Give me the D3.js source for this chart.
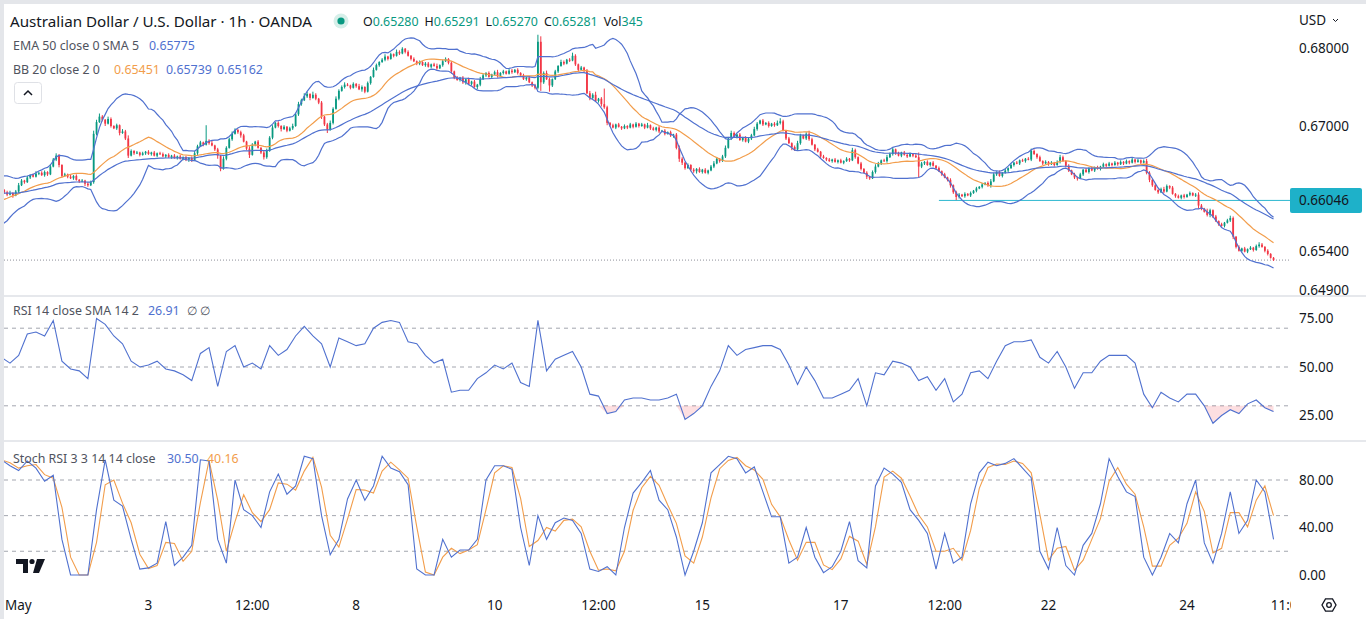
<!DOCTYPE html>
<html>
<head>
<meta charset="utf-8">
<title>AUD/USD 1h</title>
<script src="https://cdn.jsdelivr.net/npm/d3@7/dist/d3.min.js"></script>
<style>
html,body{margin:0;padding:0;background:#fff;overflow:hidden;}
svg{display:block;font-family:"Noto Sans","Open Sans",Roboto,sans-serif;}
</style>
</head>
<body>
<svg id="chart" width="1366" height="619"></svg>
<script>
// ================= DATA (prices in 1/10000 USD) =================
// hourly closes, week by week (Apr 30 21:00 -> May 25 05:00)
const closesWeek1 = [
6618,6615,6612,6614,6611,6616,6624,6630,6628,6634,
6637,6635,6639,6640,6637,6641,6638,6648,6657,6662,
6650,6636,6638,6635,6633,6636,6631,6629,6630,6626,
6624,6628,6690,6705,6712,6708,6703,6709,6700,6697,
6701,6691,6693,6684,6662,6668,6665,6666,6663,6665,
6667,6664,6666,6662,6665,6664,6661,6663,6660,6662,
6659,6661,6658,6660,6657,6659,6656,6665,6674,6679,
6676,6681,6678,6675,6670,6662,6645,6658,6672,6683,
6690,6695,6692,6688,6680,6671,6663,6676,6680,6672,
6666,6660,6668,6685,6698,6704,6700,6696,6699,6694,
6697,6700,6715,6728,6733,6738,6741,6736,6740,6735,
6730,6712,6702,6695,6704,6722,6735,6745,6750,6753];
const closesWeek2 = [
6752,6749,6754,6751,6747,6750,6744,6755,6763,6772,
6778,6782,6785,6789,6786,6792,6790,6795,6793,6799,
6795,6790,6786,6783,6780,6782,6778,6780,6776,6779,
6777,6774,6778,6783,6786,6781,6770,6762,6759,6762,
6756,6760,6754,6757,6750,6753,6760,6765,6768,6763,
6766,6769,6764,6768,6770,6767,6771,6769,6772,6768,
6765,6760,6762,6756,6752,6749,6808,6756,6768,6760,
6752,6760,6770,6777,6782,6780,6785,6784,6790,6779,
6772,6775,6771,6742,6736,6740,6732,6735,6728,6724,
6704,6701,6698,6702,6699,6697,6700,6698,6702,6699,
6703,6700,6702,6698,6701,6697,6695,6698,6693,6694,
6690,6692,6688,6689,6672,6658,6653,6646,6650,6644];
const closesWeek3 = [
6642,6645,6641,6644,6640,6643,6648,6652,6658,6655,
6661,6672,6684,6691,6686,6689,6682,6685,6680,6684,
6688,6696,6703,6707,6702,6704,6700,6703,6701,6704,
6706,6694,6684,6678,6673,6670,6678,6688,6684,6690,
6683,6676,6670,6667,6661,6659,6657,6655,6657,6654,
6656,6653,6655,6658,6656,6669,6660,6652,6645,6640,
6635,6633,6641,6648,6652,6656,6655,6660,6664,6670,
6665,6662,6666,6663,6661,6664,6662,6660,6648,6652,
6654,6650,6653,6649,6646,6642,6638,6634,6631,6624,
6615,6609,6612,6610,6613,6611,6614,6617,6620,6622,
6625,6627,6624,6629,6638,6641,6636,6640,6643,6646,
6650,6653,6652,6656,6655,6658,6657,6668,6664,6660];
const closesWeek4 = [
6655,6652,6654,6651,6653,6650,6654,6660,6655,6649,
6643,6638,6634,6633,6638,6644,6641,6646,6643,6647,
6645,6648,6651,6649,6652,6650,6653,6651,6654,6652,
6655,6653,6657,6654,6656,6653,6655,6640,6631,6624,
6618,6615,6619,6616,6623,6621,6613,6610,6608,6611,
6609,6612,6614,6611,6612,6598,6594,6590,6586,6592,
6584,6578,6574,6572,6576,6579,6582,6558,6545,6540,
6543,6539,6542,6544,6541,6546,6548,6545,6540,6536,
6531,6528];
// wick lengths beyond the candle body (1/10000)
const wickUpWeek1 = [2,1,2,3,1,2,3,2,1,2,1,2,3,1,2,2,1,3,2,3,2,1,2,1,3,1,2,1,2,1,2,2,4,3,4,2,1,3,2,1,2,1,3,2,4,2,1,2,1,2,1,2,1,2,1,2,2,1,2,1,2,1,2,1,2,1,2,3,2,2,1,20,2,3,1,2,1,3,2,2,3,2,1,2,2,1,3,2,1,2,1,2,3,2,3,1,2,1,2,1,2,3,2,3,2,4,3,1,4,2,1,2,1,2,3,2,3,2,2,3];
const wickDownWeek1 = [1,2,2,1,3,1,2,1,2,1,2,1,1,2,1,2,2,1,1,2,3,2,1,2,1,2,1,2,1,3,2,1,2,2,1,2,3,1,2,1,2,3,1,2,3,1,2,1,2,1,2,1,2,1,2,1,1,2,1,2,1,2,1,2,2,3,2,1,2,1,2,1,2,1,2,4,3,1,2,1,2,1,2,3,1,2,4,1,2,1,2,3,2,1,2,1,2,3,1,2,1,2,1,2,2,1,2,3,1,2,2,3,2,4,1,2,1,2,1,2];
const wickUpWeek2 = [2,1,2,1,3,2,1,2,1,3,2,1,2,3,1,2,1,3,2,2,1,2,1,2,1,2,1,2,2,1,2,3,1,2,2,1,2,1,2,1,2,1,2,1,2,1,3,2,1,2,1,2,3,1,2,1,2,2,1,2,1,2,1,2,1,2,9,7,2,3,2,1,2,1,3,2,1,2,4,2,1,2,1,2,3,2,4,1,2,20,2,1,2,1,2,1,2,1,2,1,2,1,2,1,3,1,2,1,2,1,2,1,2,1,2,3,2,1,2,1];
const wickDownWeek2 = [1,2,1,2,1,3,2,1,2,1,1,2,1,2,2,1,2,1,2,1,2,1,2,1,2,2,1,2,1,2,1,2,1,2,1,2,3,2,1,2,2,3,1,2,1,3,2,1,2,1,2,1,2,1,2,1,1,2,1,2,2,1,2,1,2,2,2,11,2,1,8,2,1,2,1,2,1,2,1,2,2,1,2,1,3,2,1,2,3,2,3,2,1,2,1,2,1,2,1,2,1,2,1,2,1,2,1,2,2,1,2,1,2,3,2,4,3,2,1,2];
const wickUpWeek3 = [2,1,2,1,2,1,2,3,2,1,2,3,2,3,2,1,2,1,2,1,2,3,2,1,2,1,2,1,2,3,4,2,1,2,1,2,3,2,1,2,4,2,1,2,1,2,1,2,1,2,1,2,1,2,1,3,2,1,2,1,2,1,2,3,2,1,2,3,2,2,1,2,1,2,1,2,1,2,6,2,1,2,1,2,1,2,1,2,1,2,1,2,2,1,2,1,2,1,2,1,2,1,2,3,2,1,2,1,2,1,2,1,2,1,2,1,2,3,2,1];
const wickDownWeek3 = [2,3,1,2,1,2,1,2,1,2,1,2,1,2,1,2,1,2,1,2,2,1,2,1,2,1,2,1,2,1,2,1,2,1,4,2,1,2,1,2,2,1,2,1,2,1,2,1,2,1,2,1,2,1,2,1,2,1,2,1,3,2,1,2,1,2,1,2,1,2,2,1,2,1,2,1,2,1,14,2,2,1,2,1,2,1,2,1,2,3,2,4,2,1,2,1,2,1,2,1,2,1,2,3,1,2,1,2,1,2,1,2,1,2,1,2,1,2,1,2];
const wickUpWeek4 = [2,1,2,1,2,1,2,3,2,1,2,1,2,1,2,1,2,1,2,1,2,1,2,1,2,1,2,1,2,1,2,1,2,1,2,1,2,3,2,1,2,1,2,3,2,1,2,1,2,1,2,1,2,1,2,3,2,1,4,2,1,2,1,2,1,2,3,2,1,2,1,2,1,2,1,2,3,2,1,2,1,1];
const wickDownWeek4 = [1,2,1,2,1,2,1,2,1,2,2,1,2,3,1,2,1,2,1,2,1,2,1,2,1,2,1,2,1,2,1,2,1,2,1,2,1,2,3,2,1,2,1,2,1,2,1,2,1,2,2,1,2,1,2,4,2,1,2,3,2,1,2,1,2,1,2,3,2,1,2,1,2,1,2,1,2,1,2,2,1,1];
// closes of the session before the visible range (only feed the 20-bar bands)
const priorCloses = [6590,6585,6580,6584,6589,6592,6596,6600,6594,6598,6604,6610,6615,6620,6625,6628,6624,6620,6622];
const emaStart = 6614;          // EMA 50 value at the left edge
// RSI 14 and Stoch RSI %K read every 3rd candle
const rsiEvery3 = [
55,52,56,67,68,66,74,53,49,48,
44,75,72,66,62,53,50,51,53,49,
48,46,43,57,60,40,58,61,50,52,
49,61,56,59,66,71,66,62,50,65,
63,61,62,70,73,74,73,63,62,56,
52,54,37,38,38,44,47,51,49,52,
42,40,74,48,54,56,58,50,36,35,
26,27,33,34,34,33,33,34,36,23,
26,30,40,48,61,56,59,60,61,61,
59,51,41,50,43,34,34,36,38,44,
30,47,46,53,52,50,43,45,38,44,
32,36,47,48,44,53,61,63,63,64,
55,52,58,50,39,47,47,53,56,56,
56,52,36,29,37,34,32,36,36,30,
21,25,28,26,31,33,29,27];
const stochKEvery3 = [
97,92,88,96,90,79,84,30,0,0,
0,55,97,63,58,30,5,6,10,45,
8,15,25,97,96,30,10,80,55,50,
40,70,85,68,75,100,98,50,17,30,
64,80,63,75,100,90,87,76,5,0,
0,30,15,21,21,30,80,92,92,89,
40,8,50,30,44,48,46,35,5,3,
7,0,40,69,78,88,63,55,32,0,
20,44,86,93,100,98,86,91,70,49,
49,10,15,40,15,2,7,20,45,12,
6,75,90,85,78,55,46,35,5,35,
10,15,60,86,95,92,94,98,90,82,
20,5,40,8,0,25,35,60,98,83,
70,66,15,0,15,35,27,60,80,27,
10,35,70,35,46,80,70,30];
const sampleStep = 3;
// axes
const timeTickLabels = ["May","3","12:00","8","10","12:00","15","17","12:00","22","24","11:00"];
const timeTickCandle = [3,51,87,123,171,207,243,291,327,363,411,446];
const priceTicks = [0.68, 0.67, 0.654, 0.649];
const rsiTicks = [75, 50, 25];
const rsiLevels = [70, 50, 30];
const stochTicks = [80, 40, 0];
const stochLevels = [80, 50, 20];
const markedLevel = 0.66046;
const markedLevelFromCandle = 325;
const lastClose = 0.65281;
// legend texts
const legendTitle = "Australian Dollar / U.S. Dollar · 1h · OANDA";
const ohlcLabels = ["O","H","L","C","Vol"];
const ohlcValues = ["0.65280","0.65291","0.65270","0.65281","345"];
const emaLegend = ["EMA 50 close 0 SMA 5", "0.65775"];
const bbLegend = ["BB 20 close 2 0", "0.65451", "0.65739", "0.65162"];
const rsiLegend = ["RSI 14 close SMA 14 2", "26.91", "∅", "∅"];
const stochLegend = ["Stoch RSI 3 3 14 14 close", "30.50", "40.16"];

// ================= STYLE =================
const UP = "#089981", DOWN = "#f23645";
const BLUE = "#5071cf", ORANGE = "#f29d4b", TEXT = "#131722", SUB = "#50535e";
const GRID = "#a3a6af";
const LEG = 12.4;

// ================= BUILD =================
const closes = [].concat(closesWeek1, closesWeek2, closesWeek3, closesWeek4);
const wUp = [].concat(wickUpWeek1, wickUpWeek2, wickUpWeek3, wickUpWeek4);
const wDn = [].concat(wickDownWeek1, wickDownWeek2, wickDownWeek3, wickDownWeek4);
const candles = closes.map((c, i) => {
  const o = i === 0 ? priorCloses[priorCloses.length - 1] : closes[i - 1];
  return { i, o: o / 1e4, c: c / 1e4,
           h: (Math.max(o, c) + (wUp[i] || 0)) / 1e4,
           l: (Math.min(o, c) - (wDn[i] || 0)) / 1e4 };
});
const allCloses = priorCloses.concat(closes);
const bb = closes.map((c, i) => {
  const k = i + priorCloses.length;
  const w = allCloses.slice(k - 19, k + 1);
  const m = d3.mean(w);
  const sd = Math.sqrt(d3.mean(w, v => (v - m) * (v - m)));
  return { i, mid: m / 1e4, up: (m + 2 * sd) / 1e4, lo: (m - 2 * sd) / 1e4 };
});
let e = emaStart;
const ema = closes.map((c, i) => { if (i > 0) e = e + (2 / 51) * (c - e); return { i, v: e / 1e4 }; });
const rsi = rsiEvery3.map((v, j) => ({ i: j * sampleStep, v }));
const stK = stochKEvery3.map((v, j) => ({ i: j * sampleStep, v }));
const stD = stK.map((d, j) => ({ i: d.i, v: j === 0 ? d.v : (d.v + stK[j - 1].v) / 2 }));

const svg = d3.select("#chart");
const W = 1366, H = 619;
const plotL = 4, plotR = 1290;
const mainTop = 5, mainBot = 294, rsiTop = 297, rsiBot = 439, stTop = 442, stBot = 590;

const x = d3.scaleLinear().domain([3, 411]).range([10, 1187]);
const yP = d3.scaleLinear().domain([0.649, 0.68]).range([289.8, 48]);
const yR = d3.scaleLinear().domain([25, 75]).range([415.5, 318.5]);
const yS = d3.scaleLinear().domain([0, 80]).range([575, 480]);

svg.append("rect").attr("width", W).attr("height", H).attr("fill", "#fff");
const defs = svg.append("defs");
function clip(id, x0, y0, x1, y1) {
  defs.append("clipPath").attr("id", id).append("rect")
    .attr("x", x0).attr("y", y0).attr("width", x1 - x0).attr("height", y1 - y0);
}
clip("cMain", plotL, mainTop, plotR, mainBot);
clip("cRsi", plotL, rsiTop, plotR, rsiBot);
clip("cSt", plotL, stTop, plotR, stBot);
clip("cTime", plotL, stBot, plotR + 1, H);
clip("cAxisMain", plotR, mainTop, W, mainBot + 1);

// ---------- MAIN PANE ----------
const gM = svg.append("g").attr("clip-path", "url(#cMain)");
gM.append("line").attr("x1", plotL).attr("x2", plotR)
  .attr("y1", yP(lastClose)).attr("y2", yP(lastClose))
  .attr("stroke", "#8d909a").attr("stroke-width", 1).attr("stroke-dasharray", "1,2");
gM.append("line").attr("x1", x(markedLevelFromCandle)).attr("x2", plotR)
  .attr("y1", yP(markedLevel)).attr("y2", yP(markedLevel))
  .attr("stroke", "#2bb7cf").attr("stroke-width", 1);
const cg = gM.append("g");
cg.selectAll("line.w").data(candles).join("line").attr("class", "w")
  .attr("x1", d => x(d.i)).attr("x2", d => x(d.i))
  .attr("y1", d => yP(d.h)).attr("y2", d => yP(d.l))
  .attr("stroke", d => d.c >= d.o ? UP : DOWN).attr("stroke-width", 1);
cg.selectAll("rect.b").data(candles).join("rect").attr("class", "b")
  .attr("x", d => x(d.i) - 0.9).attr("width", 1.8)
  .attr("y", d => yP(Math.max(d.o, d.c)))
  .attr("height", d => Math.max(1, Math.abs(yP(d.o) - yP(d.c))))
  .attr("fill", d => d.c >= d.o ? UP : DOWN);
const lineP = acc => d3.line().x(d => x(d.i)).y(d => yP(acc(d)));
gM.append("path").datum(bb).attr("d", lineP(d => d.up)).attr("fill", "none").attr("stroke", BLUE).attr("stroke-width", 1.2);
gM.append("path").datum(bb).attr("d", lineP(d => d.lo)).attr("fill", "none").attr("stroke", BLUE).attr("stroke-width", 1.2);
gM.append("path").datum(bb).attr("d", lineP(d => d.mid)).attr("fill", "none").attr("stroke", ORANGE).attr("stroke-width", 1.2);
gM.append("path").datum(ema).attr("d", lineP(d => d.v)).attr("fill", "none").attr("stroke", BLUE).attr("stroke-width", 1.2);

// ---------- RSI PANE ----------
const gR = svg.append("g").attr("clip-path", "url(#cRsi)");
gR.selectAll("line.lv").data(rsiLevels).join("line")
  .attr("x1", plotL).attr("x2", plotR).attr("y1", d => yR(d)).attr("y2", d => yR(d))
  .attr("stroke", GRID).attr("stroke-width", 1).attr("stroke-dasharray", "4,4");
gR.append("path").datum(rsi)
  .attr("d", d3.area().x(d => x(d.i)).y0(yR(30)).y1(d => yR(Math.min(d.v, 30))))
  .attr("fill", "rgba(242,54,69,0.16)");
gR.append("path").datum(rsi)
  .attr("d", d3.line().x(d => x(d.i)).y(d => yR(d.v)))
  .attr("fill", "none").attr("stroke", BLUE).attr("stroke-width", 1.1);

// ---------- STOCH RSI PANE ----------
const gS = svg.append("g").attr("clip-path", "url(#cSt)");
gS.selectAll("line.lv").data(stochLevels).join("line")
  .attr("x1", plotL).attr("x2", plotR).attr("y1", d => yS(d)).attr("y2", d => yS(d))
  .attr("stroke", GRID).attr("stroke-width", 1).attr("stroke-dasharray", "4,4");
gS.append("path").datum(stD)
  .attr("d", d3.line().x(d => x(d.i)).y(d => yS(d.v)))
  .attr("fill", "none").attr("stroke", ORANGE).attr("stroke-width", 1.1);
gS.append("path").datum(stK)
  .attr("d", d3.line().x(d => x(d.i)).y(d => yS(d.v)))
  .attr("fill", "none").attr("stroke", BLUE).attr("stroke-width", 1.1);

// ---------- separators ----------
svg.append("rect").attr("x", 0).attr("y", 295).attr("width", W).attr("height", 2).attr("fill", "#e6e8ec");
svg.append("rect").attr("x", 0).attr("y", 440).attr("width", W).attr("height", 2).attr("fill", "#e6e8ec");

// ---------- axes text ----------
const axisFont = 13.5;
const gA = svg.append("g").attr("font-size", axisFont).attr("fill", TEXT);
gA.append("g").attr("clip-path", "url(#cAxisMain)")
  .selectAll("text").data(priceTicks).join("text")
  .attr("x", 1299).attr("y", d => yP(d)).attr("dy", "0.36em")
  .text(d => d3.format(".5f")(d));
gA.selectAll("text.r").data(rsiTicks).join("text").attr("class", "r")
  .attr("x", 1299).attr("y", d => yR(d)).attr("dy", "0.36em").text(d => d3.format(".2f")(d));
gA.selectAll("text.s").data(stochTicks).join("text").attr("class", "s")
  .attr("x", 1299).attr("y", d => yS(d)).attr("dy", "0.36em").text(d => d3.format(".2f")(d));
gA.append("text").attr("x", 1299).attr("y", 20).attr("dy", "0.36em").text("USD");
gA.append("path").attr("d", "M1333,19 l2.5,2.5 l2.5,-2.5").attr("fill", "none").attr("stroke", TEXT).attr("stroke-width", 1);
svg.append("rect").attr("x", 1290).attr("y", yP(markedLevel) - 12.5).attr("width", 72).attr("height", 25)
  .attr("rx", 2).attr("fill", "#1eb1c9");
svg.append("text").attr("x", 1299).attr("y", yP(markedLevel)).attr("dy", "0.36em")
  .attr("font-size", axisFont).attr("fill", TEXT).text(d3.format(".5f")(markedLevel));
// time axis (first label kept fully inside the pane)
svg.append("g").attr("clip-path", "url(#cTime)").attr("font-size", axisFont).attr("fill", TEXT)
  .selectAll("text").data(timeTickLabels).join("text")
  .attr("x", (d, k) => k === 0 ? 5 : x(timeTickCandle[k])).attr("y", 605).attr("dy", "0.36em")
  .attr("text-anchor", (d, k) => k === 0 ? "start" : "middle").text(d => d);
const hex = d3.range(6).map(k => [1329 + 7 * Math.cos(Math.PI / 3 * k), 605 + 7 * Math.sin(Math.PI / 3 * k)]);
svg.append("path").attr("d", d3.line()(hex) + "Z").attr("fill", "none").attr("stroke", TEXT).attr("stroke-width", 1.3);
svg.append("circle").attr("cx", 1329).attr("cy", 605).attr("r", 2.3).attr("fill", "none").attr("stroke", TEXT).attr("stroke-width", 1.3);

// ---------- legends ----------
const gL = svg.append("g");
gL.append("text").attr("x", 10).attr("y", 22).attr("dy", "0.36em").attr("font-size", 15.2).attr("fill", TEXT).text(legendTitle);
gL.append("circle").attr("cx", 341).attr("cy", 21).attr("r", 7.5).attr("fill", "#d6efe9");
gL.append("circle").attr("cx", 341).attr("cy", 21).attr("r", 3.6).attr("fill", "#089981");
const ohlc = gL.append("text").attr("x", 363).attr("y", 22).attr("dy", "0.36em").attr("font-size", LEG);
ohlcLabels.forEach((lab, k) => {
  ohlc.append("tspan").attr("fill", TEXT).attr("dx", k ? 6 : 0).text(lab);
  ohlc.append("tspan").attr("fill", "#089981").text(ohlcValues[k]);
});
function leg(s, xx, yy, col) {
  gL.append("text").attr("x", xx).attr("y", yy).attr("dy", "0.36em").attr("font-size", LEG).attr("fill", col).text(s);
}
leg(emaLegend[0], 13, 46, SUB); leg(emaLegend[1], 149, 46, BLUE);
leg(bbLegend[0], 13, 70, SUB); leg(bbLegend[1], 114, 70, ORANGE); leg(bbLegend[2], 166, 70, BLUE); leg(bbLegend[3], 217, 70, BLUE);
gL.append("rect").attr("x", 14.5).attr("y", 82.5).attr("width", 27).attr("height", 21).attr("rx", 3)
  .attr("fill", "#fff").attr("stroke", "#dfe1e6");
gL.append("path").attr("d", "M24,95 l4,-4 l4,4").attr("fill", "none").attr("stroke", TEXT).attr("stroke-width", 1.5);
leg(rsiLegend[0], 13, 311, SUB); leg(rsiLegend[1], 148, 311, BLUE); leg(rsiLegend[2], 187, 311, SUB); leg(rsiLegend[3], 200, 311, SUB);
leg(stochLegend[0], 13, 459, SUB); leg(stochLegend[1], 167, 459, BLUE); leg(stochLegend[2], 207, 459, ORANGE);

// TradingView logo
const logo = svg.append("g").attr("fill", "#131722");
logo.append("path").attr("d", "M16,559 h12 v14 h-5 v-9 h-7 Z");
logo.append("circle").attr("cx", 32).attr("cy", 561.5).attr("r", 2.6);
logo.append("path").attr("d", "M37,559 h8 l-6,14 h-6 Z");

// frame
svg.append("rect").attr("x", 0).attr("y", 0).attr("width", W).attr("height", 4).attr("fill", "#e4e6ea");
svg.append("rect").attr("x", 0).attr("y", 0).attr("width", 4).attr("height", H).attr("fill", "#e4e6ea");
</script>
</body>
</html>
